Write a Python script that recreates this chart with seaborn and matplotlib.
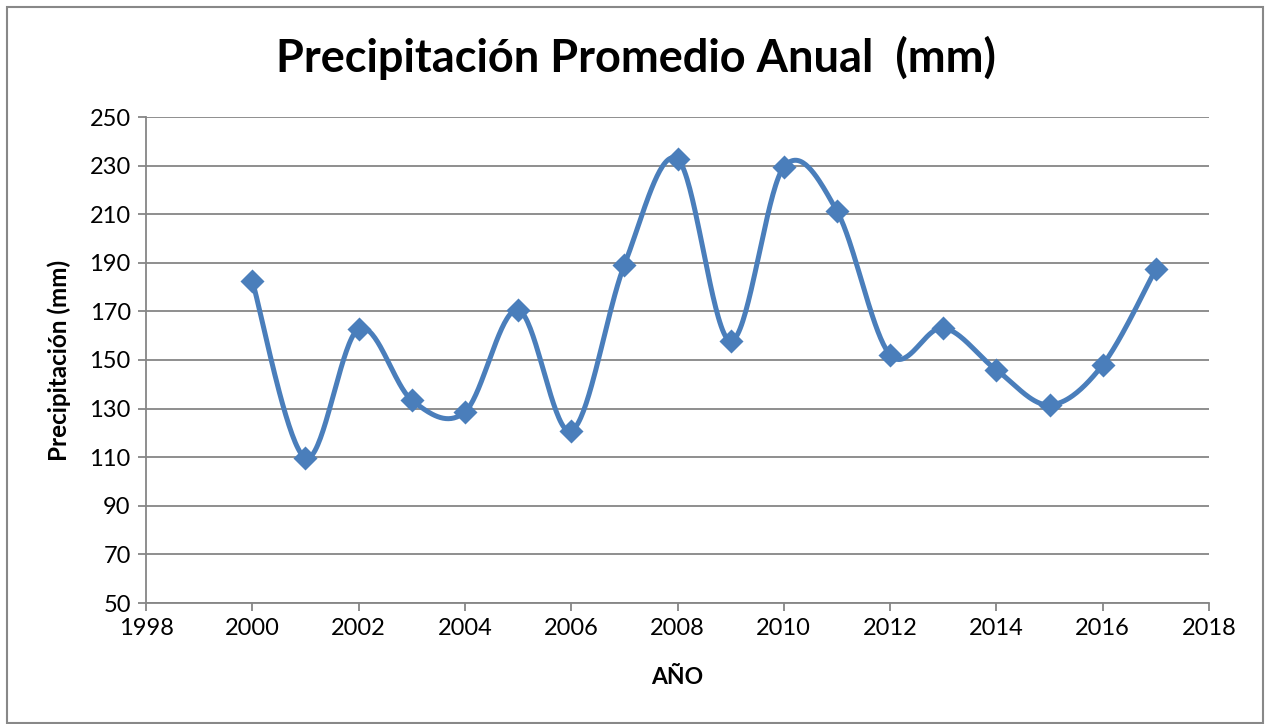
import numpy as np
import pandas as pd
import matplotlib
matplotlib.use("Agg")
import matplotlib.pyplot as plt
import seaborn as sns
from matplotlib.patches import Rectangle

years = [2000, 2001, 2002, 2003, 2004, 2005, 2006, 2007, 2008,
         2009, 2010, 2011, 2012, 2013, 2014, 2015, 2016, 2017]
precip = [182.5, 109.7, 162.8, 133.5, 128.6, 170.6, 120.8, 189.1, 232.7,
          157.8, 229.4, 211.3, 152.1, 163.2, 145.9, 131.5, 148.0, 187.4]
x_ticks = [1998, 2000, 2002, 2004, 2006, 2008, 2010, 2012, 2014, 2016, 2018]
y_ticks = [50, 70, 90, 110, 130, 150, 170, 190, 210, 230, 250]
title = "Precipitación Promedio Anual  (mm)"
xlabel = "AÑO"
ylabel = "Precipitación (mm)"

sns.set_theme(style="white")
plt.rcParams['font.family'] = ['Lato', 'DejaVu Sans']
plt.rcParams['text.color'] = 'black'
plt.rcParams['axes.labelcolor'] = 'black'

# Excel-style smoothed line (Catmull-Rom / Bezier with 1/6 tension)
P = np.column_stack([years, precip]).astype(float)
ext = np.vstack([P[0], P, P[-1]])
curve = []
t = np.linspace(0, 1, 40)
for i in range(len(P) - 1):
    p0, p1, p2, p3 = ext[i], ext[i + 1], ext[i + 2], ext[i + 3]
    c1 = p1 + (p2 - p0) / 6.0
    c2 = p2 - (p3 - p1) / 6.0
    seg = ((1 - t) ** 3)[:, None] * p1 + (3 * (1 - t) ** 2 * t)[:, None] * c1 \
        + (3 * (1 - t) * t ** 2)[:, None] * c2 + (t ** 3)[:, None] * p2
    curve.append(seg if i == 0 else seg[1:])
curve = np.vstack(curve)
curve_df = pd.DataFrame({"x": curve[:, 0], "y": curve[:, 1]})
pts_df = pd.DataFrame({"x": years, "y": precip})

fig = plt.figure(figsize=(12.66, 7.24), dpi=100)
ax = fig.add_axes([146 / 1266, 1 - 603 / 724, (1209 - 146) / 1266, (603 - 117) / 724])

color = "#4A7EBB"
sns.lineplot(data=curve_df, x="x", y="y", ax=ax, color=color, linewidth=3.6,
             sort=False, estimator=None)
sns.scatterplot(data=pts_df, x="x", y="y", ax=ax, color=color, marker="D",
                s=150, edgecolor=color, linewidth=0, zorder=5)

ax.set_xlim(1998, 2018)
ax.set_ylim(50, 250)
ax.set_xticks(x_ticks)
ax.set_yticks(y_ticks)
ax.yaxis.grid(True, color="#868686", linewidth=1.3)
ax.xaxis.grid(False)
ax.set_axisbelow(True)
for s in ["top", "right"]:
    ax.spines[s].set_visible(False)
for s in ["left", "bottom"]:
    ax.spines[s].set_color("#868686")
    ax.spines[s].set_linewidth(1.3)
ax.tick_params(axis="both", which="major", direction="out", length=6, width=1.3,
               color="#868686", labelsize=17, labelcolor="black", pad=5,
               left=True, bottom=True)
ax.set_xlabel(xlabel, fontsize=16.5, fontweight="bold", labelpad=20, color="black")
ax.set_ylabel(ylabel, fontsize=17.5, fontweight="bold", labelpad=13, color="black")

fig.text(636 / 1266, 1 - 58 / 724, title, ha="center", va="center",
         fontsize=32.5, fontweight="bold", color="black")

fig.patches.append(Rectangle((7 / 1266, 1 / 724), 1256 / 1266, 716 / 724,
                             transform=fig.transFigure, fill=False,
                             edgecolor="#888888", linewidth=1.5))

fig.savefig("out.png", dpi=100)
